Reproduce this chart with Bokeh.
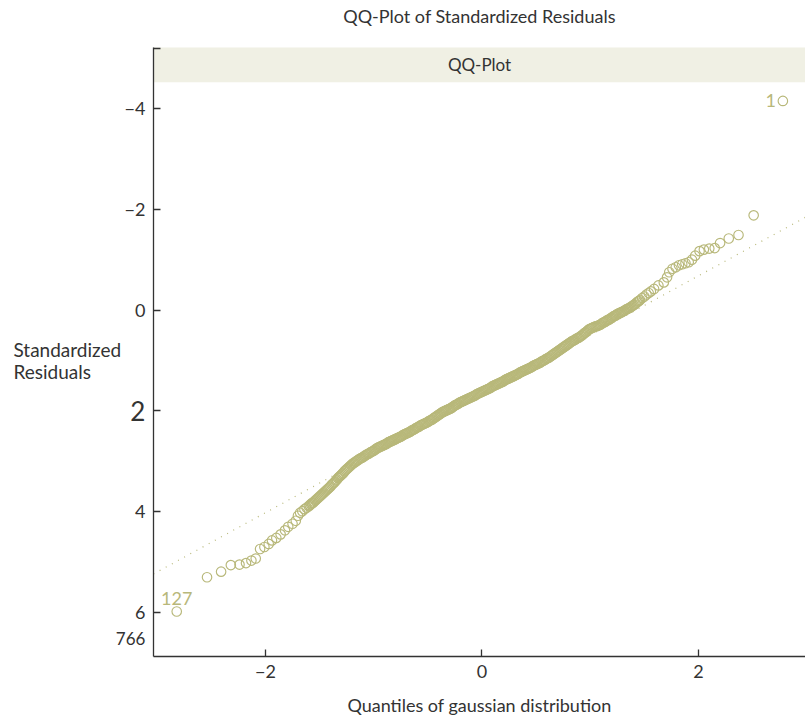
from bokeh.plotting import figure
from bokeh.models import (Range1d, FixedTicker, Label, BoxAnnotation,
                          ColumnDataSource, LinearAxis)
from bokeh.embed import file_html
from bokeh.resources import INLINE
from bokeh.core.properties import value

# ---------------- data ----------------
# lower tail (sparse, individually visible circles)
low_q = [-2.82, -2.54, -2.41, -2.32, -2.24, -2.18, -2.13, -2.09, -2.05, -2.01,
         -1.97, -1.94, -1.90, -1.86, -1.82, -1.79, -1.75, -1.72, -1.70,
         -1.68, -1.66, -1.64, -1.62]
low_r = [5.98, 5.30, 5.19, 5.06, 5.05, 5.02, 4.97, 4.93, 4.74, 4.70,
         4.64, 4.57, 4.52, 4.45, 4.37, 4.30, 4.24, 4.18, 4.08,
         4.02, 3.99, 3.95, 3.92]
# central body (dense band)
body_q = [
    -1.60, -1.59, -1.58, -1.57, -1.56, -1.55, -1.54, -1.53, -1.52, -1.51,
    -1.50, -1.49, -1.48, -1.47, -1.46, -1.45, -1.44, -1.43, -1.42, -1.41,
    -1.40, -1.39, -1.38, -1.37, -1.36, -1.35, -1.34, -1.33, -1.32, -1.31,
    -1.30, -1.29, -1.28, -1.27, -1.26, -1.25, -1.24, -1.23, -1.22, -1.21,
    -1.20, -1.19, -1.18, -1.17, -1.16, -1.15, -1.14, -1.13, -1.12, -1.11,
    -1.10, -1.09, -1.08, -1.07, -1.06, -1.05, -1.04, -1.03, -1.02, -1.01,
    -1.00, -0.99, -0.98, -0.97, -0.96, -0.95, -0.94, -0.93, -0.92, -0.91,
    -0.90, -0.89, -0.88, -0.87, -0.86, -0.85, -0.84, -0.83, -0.82, -0.81,
    -0.80, -0.79, -0.78, -0.77, -0.76, -0.75, -0.74, -0.73, -0.72, -0.71,
    -0.70, -0.69, -0.68, -0.67, -0.66, -0.65, -0.64, -0.63, -0.62, -0.61,
    -0.60, -0.59, -0.58, -0.57, -0.56, -0.55, -0.54, -0.53, -0.52, -0.51,
    -0.50, -0.49, -0.48, -0.47, -0.46, -0.45, -0.44, -0.43, -0.42, -0.41,
    -0.40, -0.39, -0.38, -0.37, -0.36, -0.35, -0.34, -0.33, -0.32, -0.31,
    -0.30, -0.29, -0.28, -0.27, -0.26, -0.25, -0.24, -0.23, -0.22, -0.21,
    -0.20, -0.19, -0.18, -0.17, -0.16, -0.15, -0.14, -0.13, -0.12, -0.11,
    -0.10, -0.09, -0.08, -0.07, -0.06, -0.05, -0.04, -0.03, -0.02, -0.01,
    0.00, 0.01, 0.02, 0.03, 0.04, 0.05, 0.06, 0.07, 0.08, 0.09,
    0.10, 0.11, 0.12, 0.13, 0.14, 0.15, 0.16, 0.17, 0.18, 0.19,
    0.20, 0.21, 0.22, 0.23, 0.24, 0.25, 0.26, 0.27, 0.28, 0.29,
    0.30, 0.31, 0.32, 0.33, 0.34, 0.35, 0.36, 0.37, 0.38, 0.39,
    0.40, 0.41, 0.42, 0.43, 0.44, 0.45, 0.46, 0.47, 0.48, 0.49,
    0.50, 0.51, 0.52, 0.53, 0.54, 0.55, 0.56, 0.57, 0.58, 0.59,
    0.60, 0.61, 0.62, 0.63, 0.64, 0.65, 0.66, 0.67, 0.68, 0.69,
    0.70, 0.71, 0.72, 0.73, 0.74, 0.75, 0.76, 0.77, 0.78, 0.79,
    0.80, 0.81, 0.82, 0.83, 0.84, 0.85, 0.86, 0.87, 0.88, 0.89,
    0.90, 0.91, 0.92, 0.93, 0.94, 0.95, 0.96, 0.97, 0.98, 0.99,
    1.00, 1.01, 1.02, 1.03, 1.04, 1.05, 1.06, 1.07, 1.08, 1.09,
    1.10, 1.11, 1.12, 1.13, 1.14, 1.15, 1.16, 1.17, 1.18, 1.19,
    1.20, 1.21, 1.22, 1.23, 1.24, 1.25, 1.26, 1.27, 1.28, 1.29,
    1.30, 1.31, 1.32, 1.33, 1.34, 1.35, 1.36, 1.37, 1.38, 1.39,
    1.40, 1.41, 1.42, 1.43, 1.44, 1.45, 1.46,
]
body_r = [
    3.89, 3.87, 3.85, 3.83, 3.82, 3.80, 3.78, 3.76, 3.74, 3.72,
    3.70, 3.68, 3.66, 3.64, 3.62, 3.60, 3.58, 3.56, 3.54, 3.52,
    3.50, 3.47, 3.45, 3.43, 3.41, 3.38, 3.36, 3.33, 3.31, 3.29,
    3.27, 3.25, 3.23, 3.20, 3.18, 3.16, 3.14, 3.12, 3.10, 3.08,
    3.06, 3.04, 3.03, 3.01, 3.00, 2.98, 2.97, 2.95, 2.94, 2.93,
    2.92, 2.90, 2.89, 2.87, 2.86, 2.85, 2.84, 2.82, 2.81, 2.80,
    2.79, 2.77, 2.76, 2.74, 2.73, 2.72, 2.71, 2.70, 2.69, 2.68,
    2.67, 2.66, 2.65, 2.63, 2.62, 2.61, 2.60, 2.59, 2.58, 2.57,
    2.56, 2.55, 2.54, 2.53, 2.52, 2.51, 2.50, 2.48, 2.47, 2.46,
    2.45, 2.44, 2.43, 2.42, 2.41, 2.39, 2.38, 2.37, 2.36, 2.34,
    2.33, 2.32, 2.31, 2.29, 2.28, 2.27, 2.26, 2.25, 2.24, 2.23,
    2.22, 2.20, 2.19, 2.18, 2.17, 2.15, 2.14, 2.12, 2.11, 2.09,
    2.08, 2.06, 2.05, 2.03, 2.02, 2.01, 2.00, 1.99, 1.98, 1.97,
    1.96, 1.95, 1.94, 1.92, 1.91, 1.89, 1.88, 1.87, 1.86, 1.84,
    1.83, 1.82, 1.81, 1.80, 1.79, 1.78, 1.77, 1.76, 1.75, 1.74,
    1.73, 1.72, 1.71, 1.70, 1.69, 1.67, 1.66, 1.65, 1.64, 1.63,
    1.62, 1.61, 1.60, 1.59, 1.58, 1.57, 1.56, 1.55, 1.54, 1.52,
    1.51, 1.50, 1.49, 1.48, 1.47, 1.46, 1.45, 1.44, 1.43, 1.42,
    1.41, 1.39, 1.38, 1.37, 1.36, 1.35, 1.34, 1.33, 1.32, 1.31,
    1.30, 1.29, 1.28, 1.27, 1.26, 1.24, 1.23, 1.22, 1.21, 1.20,
    1.19, 1.18, 1.17, 1.16, 1.15, 1.14, 1.13, 1.11, 1.10, 1.09,
    1.08, 1.07, 1.06, 1.05, 1.04, 1.02, 1.01, 1.00, 0.99, 0.97,
    0.96, 0.95, 0.94, 0.92, 0.91, 0.89, 0.88, 0.86, 0.85, 0.83,
    0.82, 0.80, 0.79, 0.77, 0.76, 0.74, 0.73, 0.71, 0.70, 0.68,
    0.67, 0.65, 0.64, 0.62, 0.61, 0.60, 0.59, 0.57, 0.56, 0.55,
    0.54, 0.52, 0.51, 0.49, 0.47, 0.45, 0.44, 0.42, 0.40, 0.38,
    0.37, 0.36, 0.35, 0.34, 0.33, 0.32, 0.32, 0.31, 0.30, 0.29,
    0.28, 0.26, 0.25, 0.24, 0.23, 0.21, 0.20, 0.19, 0.18, 0.16,
    0.15, 0.13, 0.12, 0.11, 0.10, 0.08, 0.07, 0.06, 0.05, 0.04,
    0.03, 0.02, 0.01, -0.01, -0.02, -0.03, -0.04, -0.05, -0.07, -0.08,
    -0.10, -0.11, -0.13, -0.15, -0.17, -0.18, -0.20,
]
# upper tail (sparse)
high_q = [1.48, 1.50, 1.52, 1.54, 1.56,
          1.59, 1.63, 1.68, 1.71, 1.73, 1.76, 1.79, 1.82, 1.85, 1.88,
          1.91, 1.94, 1.97, 2.01, 2.05, 2.10, 2.15, 2.20, 2.28, 2.37,
          2.51, 2.78]
high_r = [-0.24, -0.27, -0.31, -0.34, -0.37,
          -0.42, -0.49, -0.55, -0.65, -0.75, -0.82, -0.85, -0.89, -0.91, -0.93,
          -0.95, -1.00, -1.08, -1.17, -1.20, -1.22, -1.23, -1.33, -1.42, -1.49,
          -1.88, -4.15]

theoretical_q = low_q + body_q + high_q
std_resid = low_r + body_r + high_r
assert len(theoretical_q) == len(std_resid)

# observation ids of the labelled extreme points
labelled_ids = ["127", "1"]
off_chart_id = "766"
off_chart_resid = 6.52

qq_intercept = 1.67
qq_slope = -1.175

x_ticks = [-2, 0, 2]
y_ticks = [-4, -2, 0, 2, 4, 6]

title_text = "QQ-Plot of Standardized Residuals"
strip_text = "QQ-Plot"
x_title = "Quantiles of gaussian distribution"
y_title_lines = ["Standardized", "Residuals"]

# ---------------- styling / layout ----------------
KHAKI = "#b8b87a"
INK = "#333333"
STRIP = "#f0f0e4"
FONT = "Lato"

W, H = 805, 722
# panel (axes box) limits in data units
x0, x1 = -3.035, 2.99
y_bottom, y_top = 6.87, -5.21
strip_bottom = -4.52
# the frame covers the whole canvas so that every text can be drawn in it
canvas_x = (-4.448, 2.989)
canvas_y = (8.183, -6.143)

p = figure(width=W, height=H, output_backend="svg", toolbar_location=None,
           x_range=Range1d(*canvas_x), y_range=Range1d(*canvas_y),
           x_axis_location=None, y_axis_location=None, min_border=0,
           min_border_left=0, min_border_right=0, min_border_top=0,
           min_border_bottom=0)
p.background_fill_color = "white"
p.border_fill_color = "white"
p.outline_line_color = None
p.grid.visible = False

# strip header
p.add_layout(BoxAnnotation(left=x0, top=y_top, bottom=strip_bottom,
                           fill_color=STRIP, fill_alpha=1.0, line_color=None,
                           level="underlay"))

# reference line
p.line(x=[x0, x1], y=[qq_intercept + qq_slope * x0, qq_intercept + qq_slope * x1],
       line_color=KHAKI, line_width=1.2, line_dash="1 6")

# points
src = ColumnDataSource(dict(q=theoretical_q, r=std_resid))
p.scatter("q", "r", source=src, marker="circle", size=9.5, fill_color=None,
          line_color=KHAKI, line_width=1.15)

# point labels
lab_src = ColumnDataSource(dict(
    q=[theoretical_q[0], theoretical_q[-1]],
    r=[std_resid[0], std_resid[-1]],
    t=labelled_ids,
    xo=[0, -7], yo=[-6, 0],
    ta=["center", "right"], tb=["bottom", "middle"]))
p.text("q", "r", text="t", source=lab_src, x_offset="xo", y_offset="yo",
       text_align="ta", text_baseline="tb", text_color=KHAKI,
       text_font=value(FONT), text_font_size="18px")

# axes, fixed at the panel edges
xa = LinearAxis(fixed_location=y_bottom, bounds=(x0, x1),
                ticker=FixedTicker(ticks=x_ticks), axis_label=x_title)
xa.major_label_overrides = {t: str(t).replace("-", "\u2212") for t in x_ticks}
xa.axis_label_text_font = FONT
xa.axis_label_text_font_style = "normal"
xa.axis_label_text_font_size = "18px"
xa.axis_label_text_color = INK
xa.axis_label_standoff = 12
xa.major_label_standoff = 9

ya_ticks = [y_top + 0.01] + y_ticks
ya = LinearAxis(fixed_location=x0, bounds=(y_top, y_bottom),
                ticker=FixedTicker(ticks=ya_ticks))
ya.major_label_overrides = {t: ("" if t in (2, ya_ticks[0]) else
                                str(t).replace("-", "\u2212")) for t in ya_ticks}
ya.major_label_standoff = 8

for ax in [xa, ya]:
    ax.major_label_text_font = FONT
    ax.major_label_text_font_size = "18px"
    ax.major_label_text_color = INK
    ax.axis_line_color = INK
    ax.axis_line_width = 1.3
    ax.major_tick_line_color = INK
    ax.major_tick_line_width = 1.3
    ax.major_tick_in = 7
    ax.major_tick_out = 0
    ax.minor_tick_line_color = None
p.add_layout(xa, "below")
p.add_layout(ya, "left")

# the "2" tick label is drawn larger in the reference
p.add_layout(Label(x=x0, y=2, x_offset=-8, text="2", text_align="right",
                   text_baseline="middle", text_font=FONT, text_color=INK,
                   text_font_size="26px"))
# off-chart observation id
p.add_layout(Label(x=x0, y=off_chart_resid, x_offset=-8, text=off_chart_id,
                   text_align="right", text_baseline="middle", text_font=FONT,
                   text_color=INK, text_font_size="17px"))
# horizontal two-line y title
for i, line in enumerate(y_title_lines):
    p.add_layout(Label(x=-4.328, y=0.782 + 0.436 * i, text=line,
                       text_align="left", text_baseline="middle",
                       text_font=FONT, text_color=INK, text_font_size="19px"))
# title
xc = (x0 + x1) / 2
p.add_layout(Label(x=xc, y=-5.84, text=title_text, text_align="center",
                   text_baseline="middle", text_font=FONT, text_color=INK,
                   text_font_size="18px"))
# strip text
p.add_layout(Label(x=xc, y=(y_top + strip_bottom) / 2, text=strip_text,
                   text_align="center", text_baseline="middle",
                   text_font=FONT, text_color=INK, text_font_size="17px"))

open("out.html", "w").write(file_html(p, INLINE))
